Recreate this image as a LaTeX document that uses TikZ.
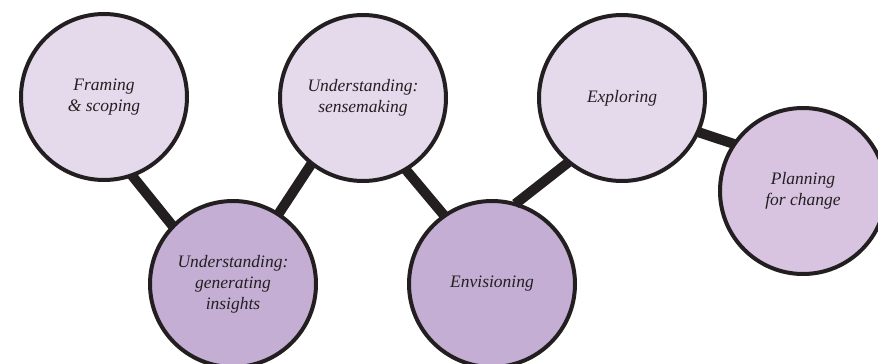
\documentclass[tikz,border=0pt]{standalone}
\usepackage{fontspec}
\setmainfont{Liberation Serif}
\definecolor{ink}{HTML}{231F20}
\definecolor{paleplum}{HTML}{E4DAEC}
\definecolor{midplum}{HTML}{D8C4E0}
\definecolor{deepplum}{HTML}{C5AED4}
\tikzset{
  stage/.style={circle, draw=ink, line width=4pt, minimum size=166pt,
    inner sep=0pt, align=center,
    font=\fontsize{17.5}{21}\selectfont\itshape, text=ink},
  link/.style={draw=ink, line width=10pt}
}
\begin{document}
\begin{tikzpicture}[x=1pt,y=-1pt]
  \useasboundingbox (0,0) rectangle (878,364);
  \clip (0,0) rectangle (878,364);
  % stages of the process
  \node[stage, fill=paleplum] (frame) at (104,97) {Framing\\\& scoping};
  \node[stage, fill=deepplum] (insight) at (233,284) {Understanding:\\generating\\insights};
  \node[stage, fill=paleplum] (sense) at (363,98) {Understanding:\\sensemaking};
  \node[stage, fill=deepplum] (envision) at (492,284) {Envisioning};
  \node[stage, fill=paleplum] (explore) at (622,98) {Exploring};
  \node[stage, fill=midplum] (plan) at (803,191) {Planning\\for change};
  % thick links between neighbouring stages
  \draw[link, shorten <=-2pt, shorten >=-2pt] (frame.290) -- (insight.136);
  \draw[link, shorten <=-2pt, shorten >=-2pt] (sense.232) -- (insight.57);
  \draw[link, shorten <=-2pt, shorten >=-2pt] (sense.301) -- (envision.125);
  \draw[link, shorten <=-2pt, shorten >=-2pt] (explore.230) -- (envision.73);
  \draw[link, shorten <=-2pt, shorten >=-2pt] (explore.336) -- (plan.146);
\end{tikzpicture}
\end{document}
